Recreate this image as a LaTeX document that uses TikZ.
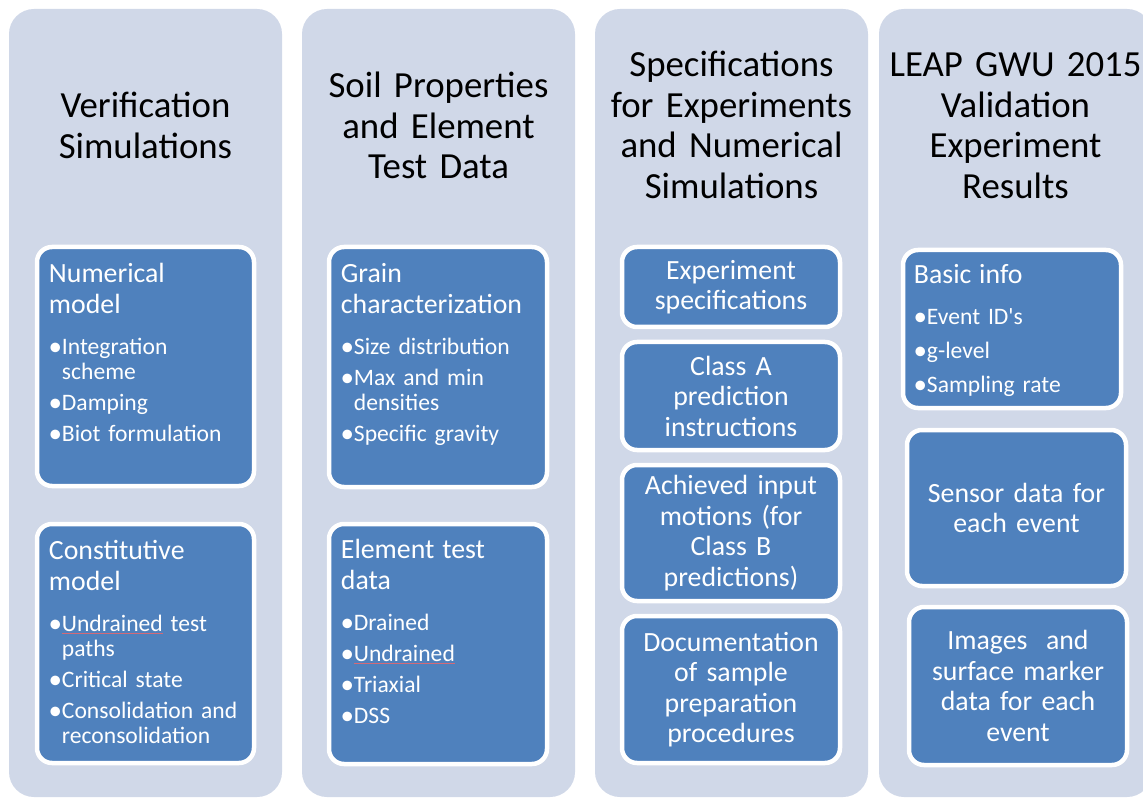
\documentclass[tikz,border=0pt]{standalone}
\usepackage{fontspec}
\setmainfont{Carlito}
\usetikzlibrary{positioning}
\definecolor{colbg}{HTML}{D0D8E8}
\definecolor{cardblue}{HTML}{4F81BD}
\definecolor{spellred}{HTML}{D26A78}
\newlength\itemgap
\setlength\itemgap{6pt}
\newlength\headgap
\setlength\headgap{10pt}
\newcommand{\dotmark}{{\fontsize{27}{25}\selectfont\raisebox{-1pt}{\textbullet}}}
\newcommand{\bul}[1]{\par\vspace{\itemgap}\hangindent=13pt\hangafter=1\noindent\makebox[13pt][c]{\dotmark}#1\par}
\newcommand{\cardhead}[1]{{\fontsize{27.8}{30.5}\selectfont #1\par}\vspace{\headgap}}
\newcommand{\spell}[1]{\setbox0\hbox{#1}\rlap{\color{spellred}\rule[-2.5pt]{\wd0}{0.4pt}}\box0\relax}
\tikzset{
  column/.style={fill=colbg, rounded corners=25pt, minimum width=273pt, minimum height=788pt, inner sep=0},
  head/.style={text width=270pt, align=center, anchor=base, inner sep=0, font=\fontsize{36.8}{40.5}\selectfont},
  card/.style={fill=cardblue, draw=white, line width=4.5pt, rounded corners=15pt, minimum width=217pt, inner sep=0},
  cardc/.style={card, text=white, text width=212pt, align=center, font=\fontsize{27.8}{30.5}\selectfont},
  listtext/.style={text=white, text width=205pt, align=left, inner sep=0, font=\fontsize{23.6}{25}\selectfont}
}
\begin{document}
\begin{tikzpicture}[x=1pt,y=-1pt]
\useasboundingbox (0,0) rectangle (1143,799);
\clip (0,0) rectangle (1143,799);
\fill[white] (0,0) rectangle (1143,799);

\node[column] (col1) at (145.5,403) {};
\node[column] (col2) at (438.5,403) {};
\node[column] (col3) at (731.5,403) {};
\node[column] (col4) at (1015.5,403) {};

\node[head] (h1) at (145.5,118) {Verification\\Simulations};
\node[head] (h2) at (438.5,98) {Soil Properties\\and Element\\Test Data};
\node[head] (h3) at (731.5,77) {Specifications\\for Experiments\\and Numerical\\Simulations};
\node[head] (h4) at (1015.5,77) {LEAP GWU 2015\\Validation\\Experiment\\Results};

\node[card, minimum height=239pt] (c1a) at (145.5,366.5) {};
\node[card, minimum height=239pt] (c1b) at (145.5,643.5) {};
\node[listtext, below right=38pt and 14pt of c1a.north west, anchor=base west] (t1a)
  {\cardhead{Numerical\\model}\bul{Integration\break scheme}\bul{Damping}\bul{Biot formulation}};
\node[listtext, below right=38pt and 14pt of c1b.north west, anchor=base west] (t1b)
  {\cardhead{Constitutive\\model}\bul{\spell{Undrained} test\break paths}\bul{Critical state}\bul{Consolidation and\break reconsolidation}};

\node[card, minimum width=218pt, minimum height=240pt] (c2a) at (438,367) {};
\node[card, minimum width=218pt, minimum height=240pt] (c2b) at (438,644) {};
\node[listtext, below right=38pt and 14pt of c2a.north west, anchor=base west] (t2a)
  {\cardhead{Grain\\characterization}\bul{Size distribution}\bul{Max and min\break densities}\bul{Specific gravity}};
\node[listtext, below right=37pt and 14pt of c2b.north west, anchor=base west] (t2b)
  {\cardhead{Element test\\data}\bul{Drained}\bul{\spell{Undrained}}\bul{Triaxial}\bul{DSS}};

\node[cardc, minimum width=218pt, minimum height=80pt] (c3a) at (731,287) {Experiment\\specifications};
\node[cardc, minimum width=218pt, minimum height=108pt] (c3b) at (731,396) {Class A\\prediction\\instructions};
\node[cardc, minimum width=218pt, minimum height=136pt] (c3c) at (731,533) {Achieved input\\motions (for\\Class B\\predictions)};
\node[cardc, minimum width=218pt, minimum height=147pt] (c3d) at (731,689.5) {Documentation\\of sample\\preparation\\procedures};

\node[card, minimum width=218pt, minimum height=158pt] (c4a) at (1012,329) {};
\node[listtext, below right=36pt and 13pt of c4a.north west, anchor=base west] (t4a)
  {\setlength\itemgap{9pt}\setlength\headgap{7pt}\cardhead{Basic info}\bul{Event ID\textquotesingle s}\bul{g-level}\bul{Sampling rate}};
\node[cardc, minimum width=219pt, minimum height=156pt] (c4b) at (1016.5,508) {Sensor data for\\each event};
\node[cardc, minimum width=218pt, minimum height=158pt] (c4c) at (1018,686) {Images\ \ and\\surface marker\\data for each\\event};
\end{tikzpicture}
\end{document}
